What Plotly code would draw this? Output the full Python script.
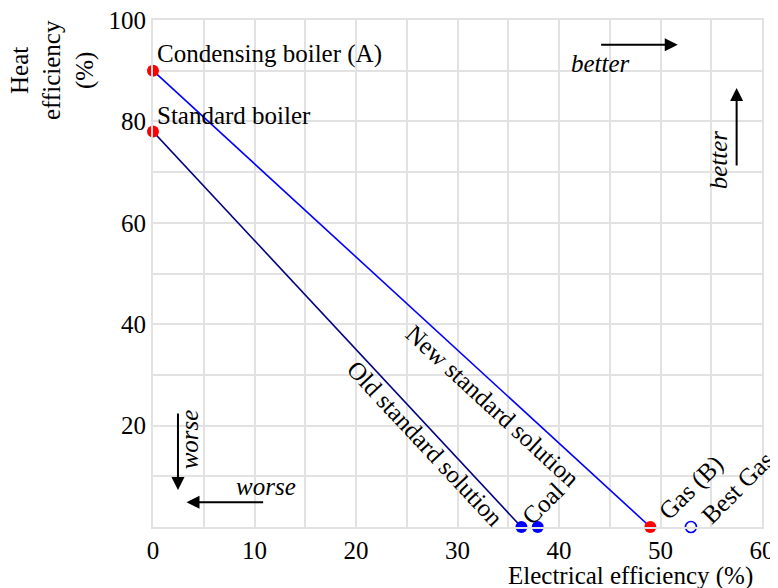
import plotly.graph_objects as go

# boilers (heat only, no electricity)
boiler_names = ["Condensing boiler (A)", "Standard boiler"]
boiler_elec = [0, 0]
boiler_heat = [90, 78]

# power plants (electricity only)
coal_elec = [36.3, 37.9]
coal_heat = [0, 0]
gas_elec = [49]
gas_heat = [0]
best_gas_elec = [53]
best_gas_heat = [0]

# standard solution lines
old_elec = [0, 36.3]
old_heat = [78, 0]
new_elec = [0, 49]
new_heat = [90, 0]

x_ticks = [0, 10, 20, 30, 40, 50, 60]
y_ticks = [0, 20, 40, 60, 80, 100]
y_tick_text = ["", "20", "40", "60", "80", "100"]

FONT = "Liberation Serif"
GRID = "#e2e2e2"

fig = go.Figure()

fig.add_trace(go.Scatter(x=old_elec, y=old_heat, mode="lines",
                         line=dict(color="#000080", width=1.6), cliponaxis=False))
fig.add_trace(go.Scatter(x=new_elec, y=new_heat, mode="lines",
                         line=dict(color="#0000ff", width=1.6), cliponaxis=False))
fig.add_trace(go.Scatter(x=boiler_elec, y=boiler_heat, mode="markers",
                         marker=dict(color="#ff0000", size=12), cliponaxis=False))
fig.add_trace(go.Scatter(x=coal_elec, y=coal_heat, mode="markers",
                         marker=dict(color="#0000ff", size=12), cliponaxis=False))
fig.add_trace(go.Scatter(x=gas_elec, y=gas_heat, mode="markers",
                         marker=dict(color="#ff0000", size=12), cliponaxis=False))
fig.add_trace(go.Scatter(x=best_gas_elec, y=best_gas_heat, mode="markers",
                         marker=dict(color="white", size=11,
                                     line=dict(color="#0000ff", width=1.6)),
                         cliponaxis=False))

font = dict(family=FONT, size=25, color="black")
ifont = dict(family=FONT, size=25, color="black", style="italic")

notes = []
# point labels
for name, x, y in zip(boiler_names, boiler_elec, boiler_heat):
    notes.append(dict(x=x, y=y, text=name, xanchor="left", yanchor="bottom",
                      xshift=2, yshift=1, font=font))
notes.append(dict(x=38.4, y=4.7, text="Coal", textangle=-45, font=font))
notes.append(dict(x=53.0, y=7.7, text="Gas (B)", textangle=-45, font=font))
notes.append(dict(x=57.6, y=7.7, text="Best Gas", textangle=-45, font=font))
notes.append(dict(x=33.4, y=23.9, text="New standard solution", textangle=42.6, font=font))
notes.append(dict(x=26.8, y=16.4, text="Old standard solution", textangle=47, font=font))

# direction arrows
arrows = [
    (51.7, 95.1, 44.0, 95.1),
    (57.5, 86.6, 57.5, 71.0),
    (2.46, 7.3, 2.46, 22.7),
    (3.3, 4.9, 11.0, 4.9),
]
for x, y, ax, ay in arrows:
    notes.append(dict(x=x, y=y, ax=ax, ay=ay, xref="x", yref="y", axref="x", ayref="y",
                      text="", showarrow=True, arrowhead=2, arrowsize=1.3,
                      arrowwidth=2, arrowcolor="black"))
notes.append(dict(x=44.1, y=91.5, text="better", font=ifont))
notes.append(dict(x=55.8, y=72.4, text="better", textangle=-90, font=ifont))
notes.append(dict(x=3.6, y=17.2, text="worse", textangle=-90, font=ifont))
notes.append(dict(x=11.1, y=7.9, text="worse", font=ifont))

# axis titles
notes.append(dict(xref="paper", yref="paper", x=-0.166, y=0.901, xanchor="center",
                  yanchor="middle", text="Heat<br>efficiency<br>(%)", textangle=-90, font=font))
notes.append(dict(xref="paper", yref="paper", x=0.988, y=-0.097, xanchor="right",
                  yanchor="middle", text="Electrical efficiency (%)", font=font))

for n in notes:
    n.setdefault("showarrow", False)
    fig.add_annotation(**n)

# the page body adds an 8px offset; the figure runs a little past the window
fig.update_layout(
    width=786, height=596,
    margin=dict(l=145, r=32, t=12, b=77),
    paper_bgcolor="white", plot_bgcolor="white",
    showlegend=False,
    font=font,
)
fig.update_xaxes(range=[0, 60], tickvals=x_ticks, showgrid=True, gridcolor=GRID, gridwidth=2,
                 minor=dict(dtick=5, tick0=0, showgrid=True, gridcolor=GRID, gridwidth=2),
                 zeroline=False, showline=True, linecolor=GRID, linewidth=2, mirror=True,
                 ticks="", tickfont=font, automargin=False, ticklabeloverflow="allow")
fig.update_yaxes(range=[0, 100], tickvals=y_ticks, ticktext=y_tick_text, showgrid=True,
                 gridcolor=GRID, gridwidth=2,
                 minor=dict(dtick=10, tick0=0, showgrid=True, gridcolor=GRID, gridwidth=2),
                 zeroline=False, showline=True, linecolor=GRID, linewidth=2, mirror=True,
                 ticks="", tickfont=font, automargin=False, ticklabeloverflow="allow")

fig.write_html("out.html")
